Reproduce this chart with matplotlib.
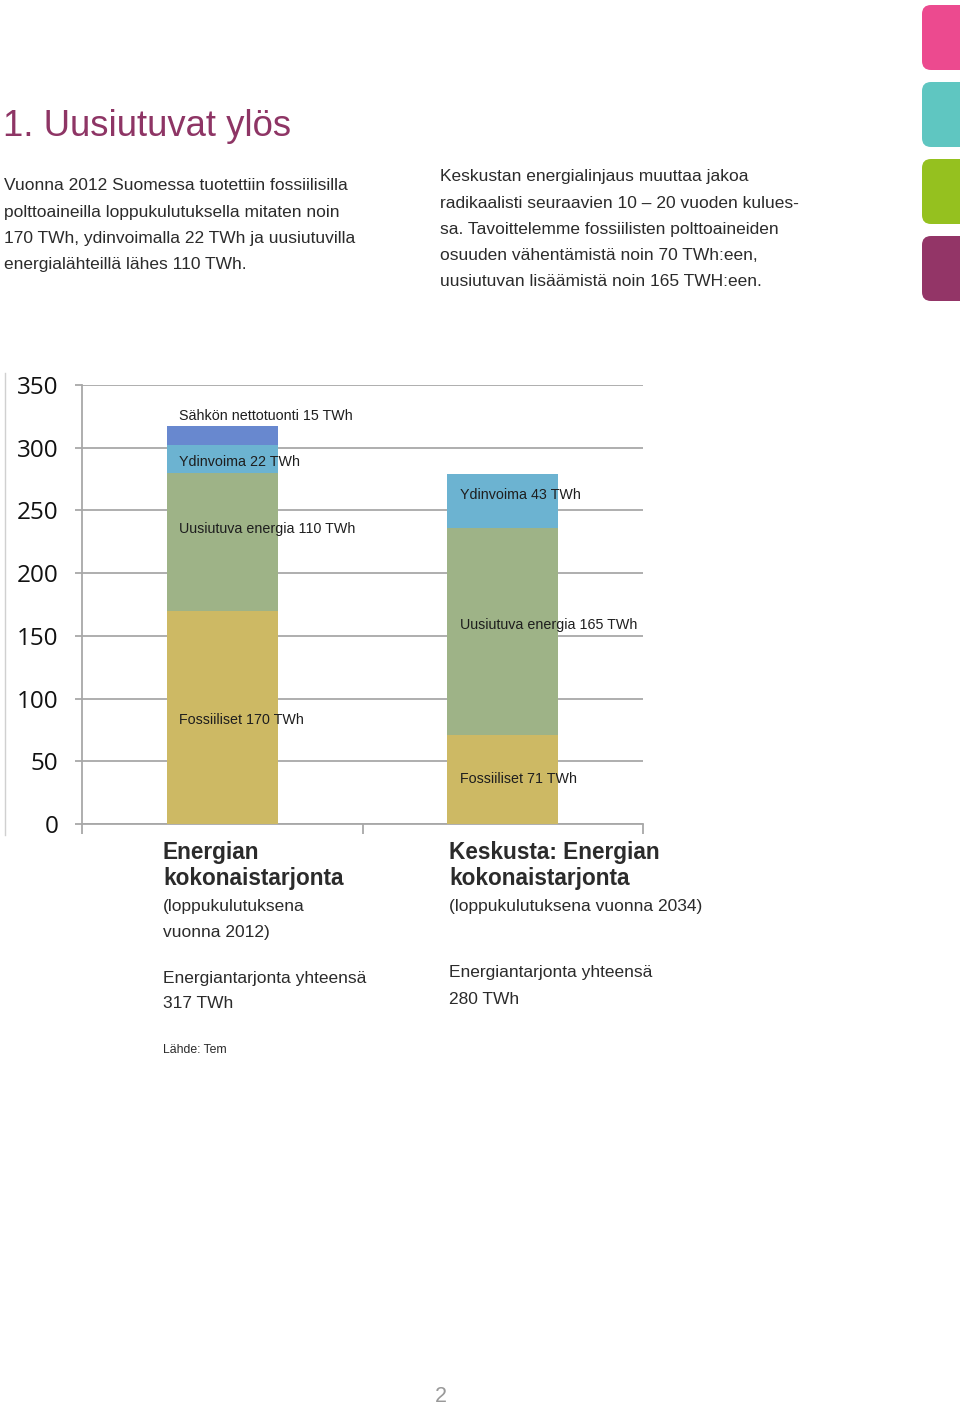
import matplotlib.pyplot as plt
from matplotlib.patches import FancyBboxPatch
import numpy as np

# Daten
kategoriat = ['2012', 'Keskusta 2034']
fossiiliset = [170, 71]
uusiutuva = [110, 165]
ydinvoima = [22, 43]
tuonti = [15, 0]
yticks = [0, 50, 100, 150, 200, 250, 300, 350]

labels_2012 = ['Fossiiliset 170 TWh', 'Uusiutuva energia 110 TWh', 'Ydinvoima 22 TWh', 'Sähkön nettotuonti 15 TWh']
labels_2034 = ['Fossiiliset 71 TWh', 'Uusiutuva energia 165 TWh', 'Ydinvoima 43 TWh']

col_fos = '#cdb964'
col_uus = '#9eb387'
col_ydin = '#6cb3d1'
col_tuonti = '#6888cf'
txt = '#2b2b2b'
sans = ['Liberation Sans', 'DejaVu Sans']

fig = plt.figure(figsize=(9.6, 14.06), dpi=100)

# Hintergrund-Achse in Pixelkoordinaten
bg = fig.add_axes([0, 0, 1, 1])
bg.set_xlim(0, 960)
bg.set_ylim(1406, 0)
bg.axis('off')

# farbige Reiter rechts
for y0, c in zip([5, 82, 159, 236], ['#ec4a8f', '#5fc6c1', '#95c11f', '#933567']):
    bg.add_patch(FancyBboxPatch((922, y0), 60, 65, boxstyle='round,pad=0,rounding_size=9',
                                fc=c, ec='none'))

bg.text(3, 127, '1. Uusiutuvat ylös', fontsize=26.3, color='#8e3565', family=sans, va='center')

left_par = ['Vuonna 2012 Suomessa tuotettiin fossiilisilla',
            'polttoaineilla loppukulutuksella mitaten noin',
            '170 TWh, ydinvoimalla 22 TWh ja uusiutuvilla',
            'energialähteillä lähes 110 TWh.']
right_par = ['Keskustan energialinjaus muuttaa jakoa',
             'radikaalisti seuraavien 10 – 20 vuoden kulues-',
             'sa. Tavoittelemme fossiilisten polttoaineiden',
             'osuuden vähentämistä noin 70 TWh:een,',
             'uusiutuvan lisäämistä noin 165 TWH:een.']
for i, s in enumerate(left_par):
    bg.text(4, 186 + i * 26.3, s, fontsize=12.5, color=txt, family=sans, va='center')
for i, s in enumerate(right_par):
    bg.text(440, 177 + i * 26.2, s, fontsize=12.5, color=txt, family=sans, va='center')

# dünne Rahmenlinie links
bg.plot([5, 5], [373, 835], color='#d0d0d0', lw=1)

# Kategorietexte unter dem Diagramm
bg.text(163, 852, 'Energian', fontsize=16.3, fontweight='bold', color=txt, family=sans, va='center')
bg.text(163, 878, 'kokonaistarjonta', fontsize=16.3, fontweight='bold', color=txt, family=sans, va='center')
bg.text(163, 906, '(loppukulutuksena', fontsize=12.5, color=txt, family=sans, va='center')
bg.text(163, 932, 'vuonna 2012)', fontsize=12.5, color=txt, family=sans, va='center')
bg.text(163, 978, 'Energiantarjonta yhteensä', fontsize=12.5, color=txt, family=sans, va='center')
bg.text(163, 1004, '317 TWh', fontsize=12.5, color=txt, family=sans, va='center')

bg.text(449, 852, 'Keskusta: Energian', fontsize=16.3, fontweight='bold', color=txt, family=sans, va='center')
bg.text(449, 878, 'kokonaistarjonta', fontsize=16.3, fontweight='bold', color=txt, family=sans, va='center')
bg.text(449, 906, '(loppukulutuksena vuonna 2034)', fontsize=12.5, color=txt, family=sans, va='center')
bg.text(449, 973, 'Energiantarjonta yhteensä', fontsize=12.5, color=txt, family=sans, va='center')
bg.text(449, 999, '280 TWh', fontsize=12.5, color=txt, family=sans, va='center')

bg.text(163, 1050, 'Lähde: Tem', fontsize=8.8, color=txt, family=sans, va='center')
bg.text(441, 1397, '2', fontsize=15.5, color='#999999', family=sans, va='center', ha='center')

# Diagramm
ax = fig.add_axes([82 / 960, 1 - 824 / 1406, (643 - 82) / 960, (824 - 385) / 1406])
ax.set_facecolor('none')
x = np.array([0.5, 1.5])
w = 0.396
b1 = np.array(fossiiliset)
b2 = b1 + np.array(uusiutuva)
b3 = b2 + np.array(ydinvoima)
ax.bar(x, fossiiliset, w, color=col_fos, zorder=3)
ax.bar(x, uusiutuva, w, bottom=b1, color=col_uus, zorder=3)
ax.bar(x, ydinvoima, w, bottom=b2, color=col_ydin, zorder=3)
ax.bar(x[:1], tuonti[:1], w, bottom=b3[:1], color=col_tuonti, zorder=3)

# Beschriftungen der Segmente
lx = x - w / 2 + 0.045
seg_2012 = [fossiiliset[0], uusiutuva[0], ydinvoima[0], tuonti[0]]
seg_2034 = [fossiiliset[1], uusiutuva[1], ydinvoima[1]]
dy_2012 = [-2, 10, -2, 16]
dy_2034 = [0, 5, 5]
for segs, labs, dys, xx in [(seg_2012, labels_2012, dy_2012, lx[0]),
                            (seg_2034, labels_2034, dy_2034, lx[1])]:
    base = 0
    for v, lab, d in zip(segs, labs, dys):
        ax.text(xx, base + v / 2 + d, lab, fontsize=10.3, color='#1e1e1e', family=sans,
                va='center', ha='left', zorder=4)
        base += v

ax.set_xlim(0, 2)
ax.set_ylim(0, 350)
ax.set_yticks(yticks)
ax.set_xticks([0, 1, 2])
ax.set_xticklabels([])
ax.grid(axis='y', color='#a8a8a8', lw=1.3, zorder=0)
ax.set_axisbelow(True)
for s in ['top', 'right']:
    ax.spines[s].set_visible(False)
for s in ['left', 'bottom']:
    ax.spines[s].set_color('#a8a8a8')
    ax.spines[s].set_linewidth(1.3)
ax.tick_params(axis='y', length=5, width=1.3, color='#a8a8a8', pad=12, labelsize=17.5, labelcolor='#111111')
ax.tick_params(axis='x', length=7, width=1.3, color='#a8a8a8')
for t in ax.get_yticklabels():
    t.set_family(['Open Sans', 'DejaVu Sans'])

fig.savefig('out.png', dpi=100)
